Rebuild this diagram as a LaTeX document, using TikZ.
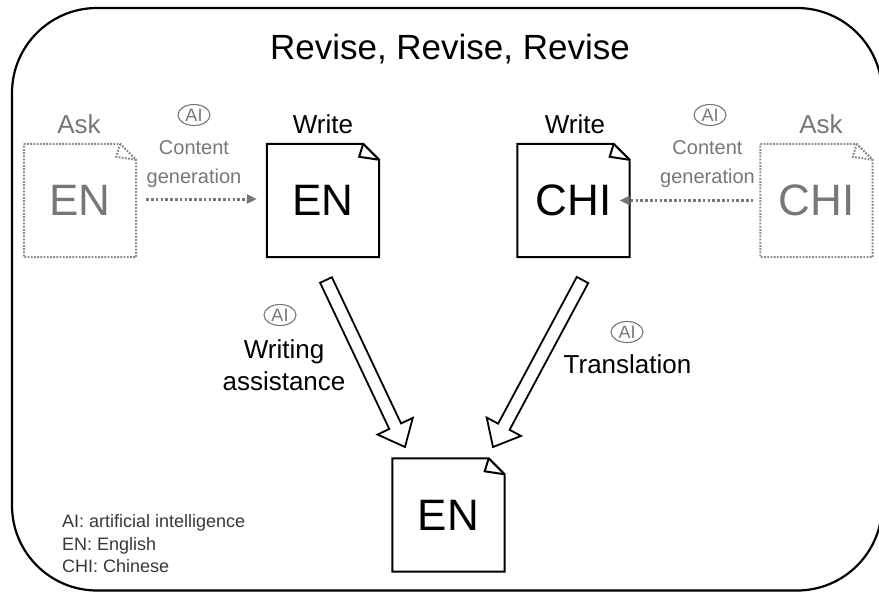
\documentclass[tikz,border=0pt]{standalone}
\usepackage{fontspec}
\setmainfont{Liberation Sans}
\usetikzlibrary{calc,arrows.meta,shapes.geometric}

\definecolor{faded}{HTML}{777777}
\definecolor{legendgrey}{HTML}{383838}

\newcommand\fsz[1]{\fontsize{#1}{#1}\selectfont}

% outline of a sheet with a folded top-right corner, drawn round a node
\newcommand\foldsheet[2]{%
  \draw[#2] (#1.north west) -- ([xshift=-16pt]#1.north east)
    -- ([yshift=-16pt]#1.north east) -- (#1.south east)
    -- (#1.south west) -- cycle;
  \draw[#2] ([xshift=-16pt]#1.north east)
    -- ([xshift=-20pt,yshift=-13pt]#1.north east)
    -- ([yshift=-16pt]#1.north east);}

% hollow block arrow from #1 to #2
\newcommand\hollowarrow[2]{%
  \draw[blockarrow] ($(#1)!6.5pt!90:(#2)$)
    -- ($(#2)!23pt!(#1)!6.5pt!-90:(#1)$)
    -- ($(#2)!23pt!(#1)!19.5pt!-90:(#1)$)
    -- (#2)
    -- ($(#2)!23pt!(#1)!19.5pt!90:(#1)$)
    -- ($(#2)!23pt!(#1)!6.5pt!90:(#1)$)
    -- ($(#1)!6.5pt!-90:(#2)$) -- cycle;}

\begin{document}
\begin{tikzpicture}[x=1pt,y=-1pt,
  sheet/.style={minimum width=112pt,minimum height=113pt,inner sep=0pt,font=\fsz{44}},
  solidsheet/.style={line width=2pt,black,line join=miter},
  dotsheet/.style={line width=2pt,faded!85,dash pattern=on 1.8pt off 1.4pt},
  headlabel/.style={anchor=base,inner sep=0pt,font=\fsz{26}},
  small/.style={anchor=base,inner sep=0pt,font=\fsz{20},text=faded},
  aimark/.style={ellipse,draw=faded,line width=1.1pt,minimum width=32pt,minimum height=21pt,
    inner sep=0pt,font=\fsz{18},text=faded},
  flowlabel/.style={anchor=base,inner sep=0pt,font=\fsz{26}},
  legend/.style={anchor=base west,inner sep=0pt,font=\fsz{18},text=legendgrey},
  genarrow/.style={faded,line width=3pt,dash pattern=on 2.6pt off 2.2pt,
    -{Triangle[length=10pt,width=9pt]}},
  blockarrow/.style={draw=black,fill=white,line width=1.8pt,line join=miter}]

\useasboundingbox (0,0) rectangle (879,592);

% outer rounded frame
\begin{scope}
  \clip (0,0) rectangle (879,592);
  \draw[line width=2.2pt,rounded corners=85pt] (12,8) rectangle (882,590.5);
\end{scope}

\node[anchor=base,inner sep=0pt,font=\fsz{35}] (title) at (450,59) {Revise, Revise, Revise};

% sheets
\node[sheet,text=faded] (askEN)   at (80,200.5)   {EN};
\node[sheet]            (writeEN) at (323,200.5)  {EN};
\node[sheet]            (writeCH) at (573.5,200.5){CHI};
\node[sheet,text=faded] (askCH)   at (816.5,200.5){CHI};
\node[sheet]            (final)   at (448.5,515)  {EN};

\foldsheet{askEN}{dotsheet}
\foldsheet{writeEN}{solidsheet}
\foldsheet{writeCH}{solidsheet}
\foldsheet{askCH}{dotsheet}
\foldsheet{final}{solidsheet}

% sheet captions
\node[headlabel,text=faded] (askENlbl) at (79,133)  {Ask};
\node[headlabel]            (wrENlbl)  at (323,133) {Write};
\node[headlabel]            (wrCHlbl)  at (575,133) {Write};
\node[headlabel,text=faded] (askCHlbl) at (821,133) {Ask};

% content generation, left
\node[aimark] (aiL) at (194,115) {AI};
\node[small] (contL) at (194,154) {Content};
\node[small] (genL)  at (194,183) {generation};
\draw[genarrow] ([xshift=10pt,yshift=1.5pt]askEN.east) -- ([xshift=-10pt,yshift=1.5pt]writeEN.west);

% content generation, right
\node[aimark] (aiR) at (710,115) {AI};
\node[small] (contR) at (707.5,154) {Content};
\node[small] (genR)  at (707.5,183) {generation};
\draw[genarrow] ([xshift=-7pt]askCH.west) -- ([xshift=-10pt]writeCH.east);

% block arrows into the final sheet
\coordinate (la1) at (326,280);
\coordinate (la2) at (405,447);
\coordinate (ra1) at (582.5,280);
\coordinate (ra2) at (493,447);
\hollowarrow{la1}{la2}
\hollowarrow{ra1}{ra2}

\node[aimark] (aiW) at (280,315) {AI};
\node[flowlabel] (writing) at (284,358) {Writing};
\node[flowlabel] (assist)  at (284,390) {assistance};

\node[aimark] (aiT) at (627,332) {AI};
\node[flowlabel] (transl) at (627.5,373) {Translation};

% legend
\node[legend] (lg1) at (62,527) {AI: artificial intelligence};
\node[legend] (lg2) at (62,550) {EN: English};
\node[legend] (lg3) at (62,572) {CHI: Chinese};

\end{tikzpicture}
\end{document}
